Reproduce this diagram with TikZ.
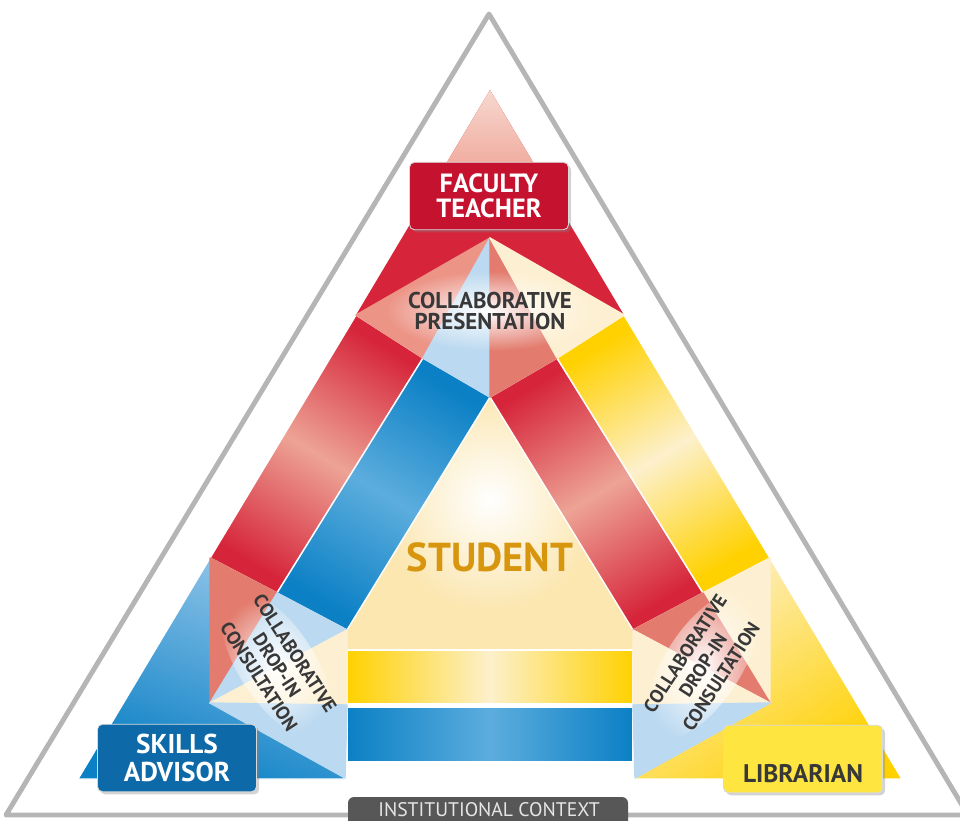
\documentclass[tikz,border=0pt]{standalone}
\usepackage{fontspec}
\setmainfont{PT Sans}
\usepackage{xcolor}
\usetikzlibrary{fadings,shadows}

\definecolor{FacultyRed}{HTML}{D6253A}
\definecolor{BoxRed}{HTML}{C5122F}
\definecolor{TopPale}{HTML}{F7D9D0}
\definecolor{TopPink}{HTML}{EFA193}
\definecolor{RedGlow}{HTML}{EDA395}
\definecolor{SkillBlue}{HTML}{0B80C5}
\definecolor{SkillLight}{HTML}{93C6EA}
\definecolor{BlueGlow}{HTML}{5CADDD}
\definecolor{BoxBlue}{HTML}{0D69A8}
\definecolor{LibYellow}{HTML}{FFD100}
\definecolor{LibPale}{HTML}{FDF0CC}
\definecolor{BoxYellow}{HTML}{FFE540}
\definecolor{StudentPale}{HTML}{FCE7B1}
\definecolor{PinkTile}{HTML}{EC9486}
\definecolor{SalmonTile}{HTML}{E37C6E}
\definecolor{BlueTile}{HTML}{BBD9F0}
\definecolor{CreamTile}{HTML}{FDF0D2}
\definecolor{StudentOrange}{HTML}{D8960E}
\definecolor{TextGray}{HTML}{383838}
\definecolor{FrameGray}{HTML}{B5B5B5}
\definecolor{TabGray}{HTML}{575757}
\definecolor{TabText}{HTML}{E6E6E6}

\tikzfading[name=glowfade, inner color=transparent!0, outer color=transparent!100]

\begin{document}
\begin{tikzpicture}[x=0.02cm, y=-0.02cm,
  tile/.style={draw=white, line width=0.8pt, line join=round},
  glow/.style={white, path fading=glowfade},
  rolebox/.style={rounded corners=0.1cm, draw=white!85!black, line width=0.5pt,
    minimum width=3.18cm, minimum height=1.35cm, align=center,
    drop shadow={shadow xshift=1.5pt, shadow yshift=-1.5pt, opacity=0.35}},
  tiletext/.style={text=TextGray, align=center}]
\useasboundingbox (0,0) rectangle (960,821);
%%%%% Frame %%%%%
\draw[FrameGray, line width=2.8pt, line join=round] (489,14) -- (968,815) -- (6,815) -- cycle;
%%%%% Student %%%%%
\fill[StudentPale] (490,397) -- (347,630) -- (347,650) -- (633,650) -- (633,630) -- cycle;
\fill[glow] (490,500) circle (110);
%%%%% Corners %%%%%
\fill[FacultyRed] (490,90) -- (356,315) -- (624,315) -- cycle;
\begin{scope}
\clip (490,90) -- (356,315) -- (624,315) -- cycle;
\shade[top color=TopPale, bottom color=TopPink] (400,88) rectangle (580,185);
\end{scope}
\shade[tile, top color=SkillLight, bottom color=SkillBlue, shading angle=-20] (210,558) -- (78,779) -- (345,779) -- cycle;
\shade[tile, top color=LibPale, bottom color=LibYellow, shading angle=35] (770,558) -- (635,779) -- (902,779) -- cycle;
%%%%% Strips %%%%%
\shade[tile, top color=FacultyRed, bottom color=FacultyRed, middle color=RedGlow, shading angle=-31] (356,315) -- (423,358) -- (277,593) -- (210,558) -- cycle;
\shade[tile, top color=SkillBlue, bottom color=SkillBlue, middle color=BlueGlow, shading angle=-31] (423,358) -- (490,397) -- (347,630) -- (277,593) -- cycle;
\shade[tile, top color=FacultyRed, bottom color=FacultyRed, middle color=RedGlow, shading angle=31] (490,397) -- (557,358) -- (703,593) -- (633,630) -- cycle;
\shade[tile, top color=LibYellow, bottom color=LibYellow, middle color=LibPale, shading angle=31] (557,358) -- (624,315) -- (770,558) -- (703,593) -- cycle;
\shade[tile, left color=LibYellow, right color=LibYellow, middle color=LibPale] (347,650) rectangle (633,704);
\shade[tile, left color=SkillBlue, right color=SkillBlue, middle color=BlueGlow] (347,707) rectangle (633,762);
%%%%% Diamonds %%%%%
% top
\fill[tile, PinkTile] (490,238) -- (356,315) -- (423,358) -- cycle;
\fill[tile, BlueTile] (490,238) -- (423,358) -- (490,397) -- cycle;
\fill[tile, SalmonTile] (490,238) -- (490,397) -- (557,358) -- cycle;
\fill[tile, CreamTile] (490,238) -- (557,358) -- (624,315) -- cycle;
\fill[glow] (490,311) ellipse (105 and 40);
% bottom left
\fill[tile, SalmonTile] (210,703) -- (210,558) -- (277,593) -- cycle;
\fill[tile, BlueTile] (210,703) -- (277,593) -- (347,630) -- cycle;
\fill[tile, CreamTile] (210,703) -- (347,630) -- (347,705) -- cycle;
\fill[tile, BlueTile] (210,703) -- (347,705) -- (345,778) -- cycle;
\fill[glow, rotate around={-57:(277,665)}] (277,665) ellipse (85 and 38);
% bottom right
\fill[tile, CreamTile] (770,703) -- (770,558) -- (703,593) -- cycle;
\fill[tile, SalmonTile] (770,703) -- (703,593) -- (633,630) -- cycle;
\fill[tile, CreamTile] (770,703) -- (633,630) -- (633,705) -- cycle;
\fill[tile, BlueTile] (770,703) -- (633,705) -- (635,778) -- cycle;
\fill[glow, rotate around={57:(703,665)}] (703,665) ellipse (85 and 38);
%%%%% Labels %%%%%
\node[tiletext, font=\bfseries\fontsize{13}{12.5}\selectfont] (presentation) at (490,311) {COLLABORATIVE\\PRESENTATION};
\node[tiletext, rotate=-57, font=\bfseries\fontsize{10.8}{12.2}\selectfont] (dropleft) at (277,665) {COLLABORATIVE\\DROP-IN\\CONSULTATION};
\node[tiletext, rotate=57, font=\bfseries\fontsize{10.8}{12.2}\selectfont] (dropright) at (703,665) {COLLABORATIVE\\DROP-IN\\CONSULTATION};
\node[text=StudentOrange, font=\bfseries\fontsize{23}{24}\selectfont] (student) at (490,557) {STUDENT};
%%%%% Roles %%%%%
\node[rolebox, fill=BoxRed, text=white, font=\bfseries\fontsize{15}{14.2}\selectfont] (faculty) at (489,196) {FACULTY\\TEACHER};
\node[rolebox, fill=BoxBlue, text=white, font=\bfseries\fontsize{15.5}{16}\selectfont] (skills) at (177,758) {SKILLS\\ADVISOR};
\node[rolebox, fill=BoxYellow] (librarian) at (803,759) {};
\node[text=TextGray, font=\bfseries\fontsize{14.5}{16}\selectfont] (libtext) at (803,774) {LIBRARIAN};
%%%%% Context %%%%%
\fill[TabGray, rounded corners=0.12cm] (348,840) -- (348,797) -- (628,797) -- (628,840);
\node[text=TabText, font=\fontsize{11.2}{12}\selectfont] (context) at (489,810) {INSTITUTIONAL CONTEXT};
\end{tikzpicture}
\end{document}
